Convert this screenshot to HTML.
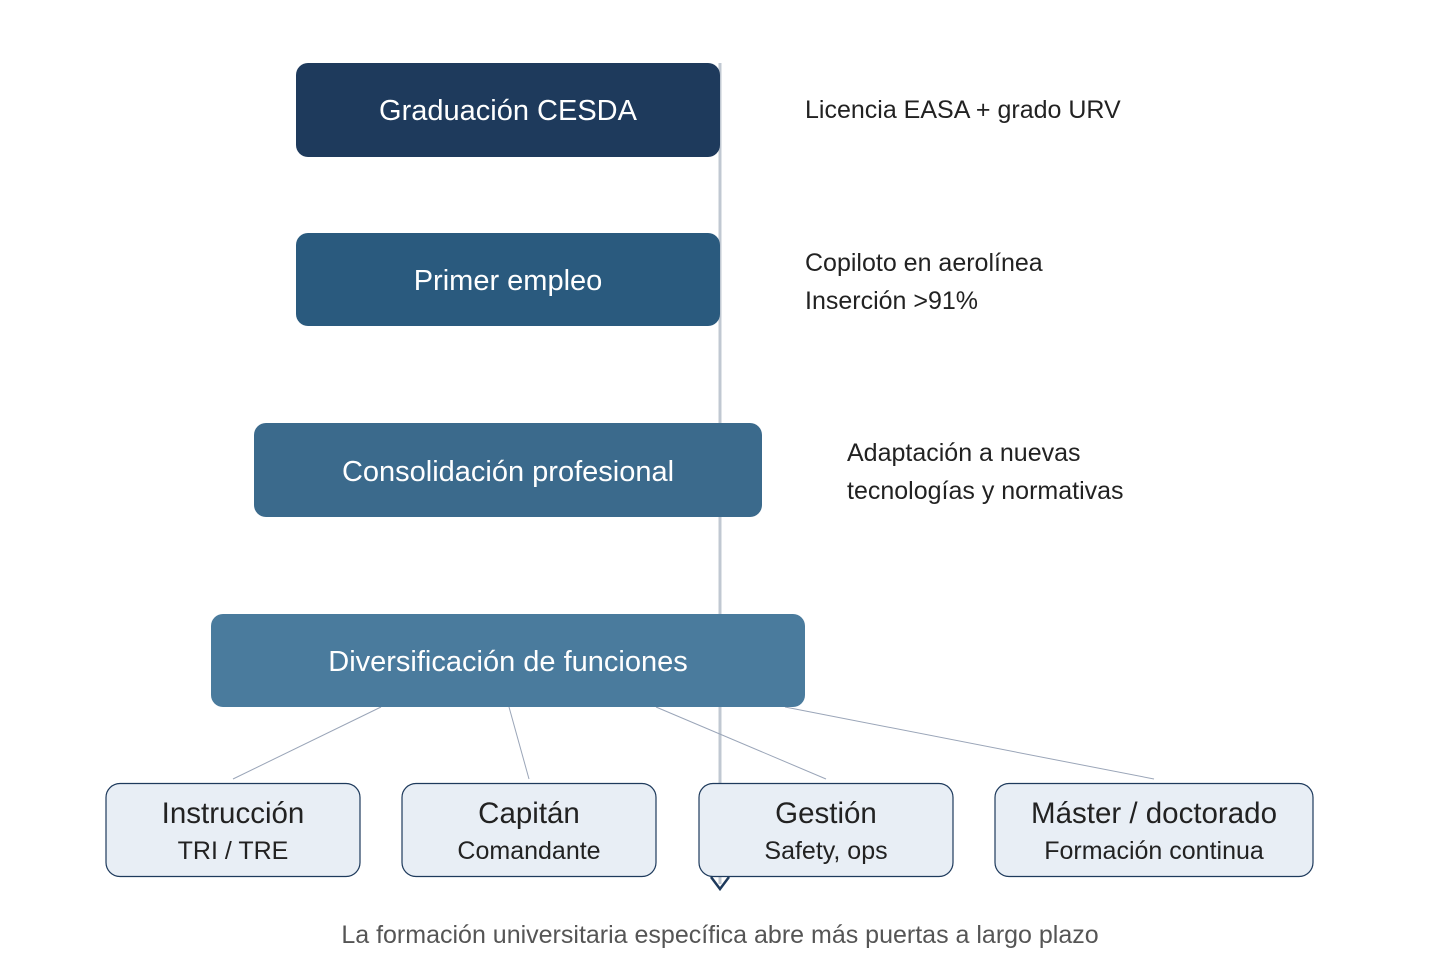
<!DOCTYPE html>
<html><head><meta charset="utf-8"><style>
body{margin:0;background:#fff;width:1440px;height:974px;overflow:hidden;font-family:"Liberation Sans",sans-serif}
</style></head><body>
<svg width="1440" height="974" xmlns="http://www.w3.org/2000/svg" style="position:absolute;left:0;top:0">
<line x1="720" y1="63" x2="720" y2="884" stroke="#c0c8d2" stroke-width="3"/>
<g stroke="#9aa5b8" stroke-width="1">
<line x1="381" y1="707" x2="233" y2="779"/>
<line x1="509" y1="707" x2="529" y2="779"/>
<line x1="656" y1="707" x2="826" y2="779"/>
<line x1="785" y1="707" x2="1154" y2="779"/>
</g>
<rect x="296" y="63" width="424" height="94" rx="12" fill="#1e3a5c"/>
<rect x="296" y="233" width="424" height="93" rx="12" fill="#2a5a7e"/>
<rect x="254" y="423" width="508" height="94" rx="12" fill="#3b6a8c"/>
<rect x="211" y="614" width="594" height="93" rx="12" fill="#4a7b9d"/>
<g fill="#fff" font-size="29" text-anchor="middle">
<text x="508" y="120">Graduación CESDA</text>
<text x="508" y="290">Primer empleo</text>
<text x="508" y="481">Consolidación profesional</text>
<text x="508" y="671">Diversificación de funciones</text>
</g>
<g fill="#e8eef5" stroke="#1e3a5c" stroke-width="1.2">
<rect x="106" y="783.5" width="254" height="93" rx="14"/>
<rect x="402" y="783.5" width="254" height="93" rx="14"/>
<rect x="699" y="783.5" width="254" height="93" rx="14"/>
<rect x="995" y="783.5" width="318" height="93" rx="14"/>
</g>
<polyline points="711,877 720,889 729,877" fill="none" stroke="#1e3a5c" stroke-width="2.5"/>
<g fill="#222" text-anchor="middle">
<text x="233" y="823" font-size="29.5">Instrucción</text>
<text x="233" y="859" font-size="25">TRI / TRE</text>
<text x="529" y="823" font-size="29.5">Capitán</text>
<text x="529" y="859" font-size="25">Comandante</text>
<text x="826" y="823" font-size="29.5">Gestión</text>
<text x="826" y="859" font-size="25">Safety, ops</text>
<text x="1154" y="823" font-size="29.5">Máster / doctorado</text>
<text x="1154" y="859" font-size="25">Formación continua</text>
</g>
<g fill="#222" font-size="25">
<text x="805" y="118">Licencia EASA + grado URV</text>
<text x="805" y="271">Copiloto en aerolínea</text>
<text x="805" y="309">Inserción &gt;91%</text>
<text x="847" y="461">Adaptación a nuevas</text>
<text x="847" y="499">tecnologías y normativas</text>
</g>
<text x="720" y="943" font-size="25" fill="#555" text-anchor="middle">La formación universitaria específica abre más puertas a largo plazo</text>
</svg>
</body></html>
